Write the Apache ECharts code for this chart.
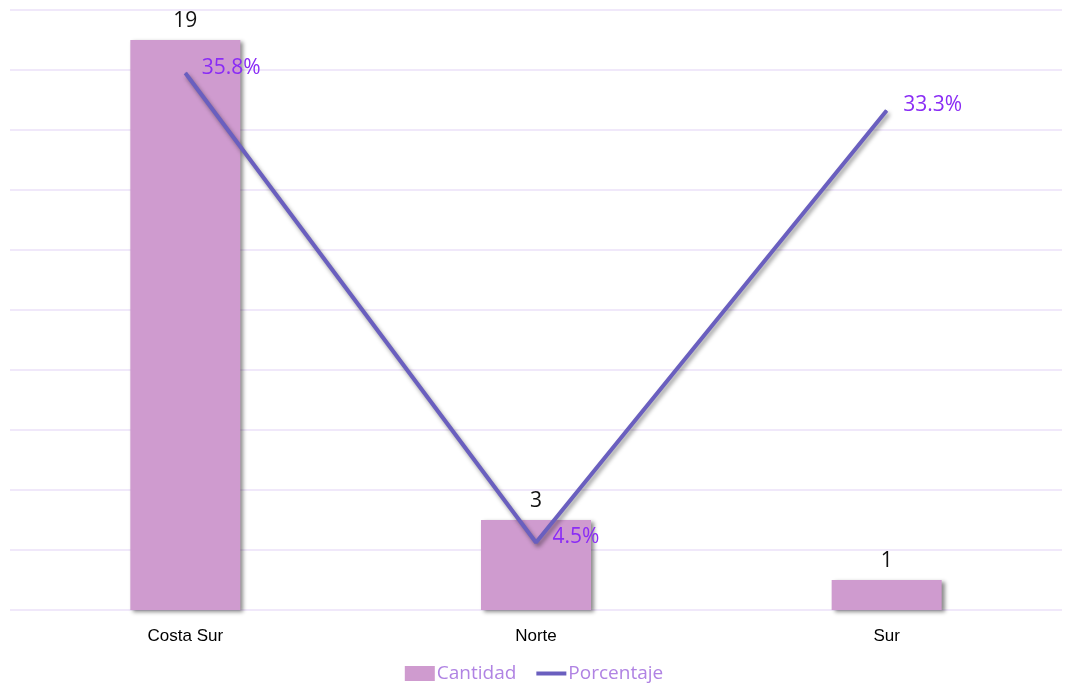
<!DOCTYPE html>
<html><head><meta charset="utf-8">
<script src="https://cdn.jsdelivr.net/npm/echarts@6/dist/echarts.min.js"></script>
<style>html,body{margin:0;padding:0;background:#fff}#c{width:1068px;height:685px}</style>
</head><body><div id="c"></div>
<script>
const categories = ['Costa Sur', 'Norte', 'Sur'];
const cantidad = [19, 3, 1];
const porcentaje = [0.358, 0.045, 0.333];
const seriesNames = ['Cantidad', 'Porcentaje'];

const labelFont = '"Open Sans", "DejaVu Sans", sans-serif';
const chart = echarts.init(document.getElementById('c'));
chart.setOption({
  animation: false,
  backgroundColor: '#fff',
  grid: { left: 10, right: 6, top: 10, bottom: 75, containLabel: false },
  legend: {
    top: 659, left: 'center', itemGap: 20, itemWidth: 30, itemHeight: 15, symbolKeepAspect: true,
    textStyle: { color: '#b083e3', fontSize: 19, fontFamily: labelFont, padding: [0,0,0,-3] },
    data: [
      { name: seriesNames[0], icon: 'rect' },
      { name: seriesNames[1], icon: 'path://M0,0h30v4h-30z' }
    ]
  },
  xAxis: {
    type: 'category', data: categories,
    axisLine: { show: false }, axisTick: { show: false },
    axisLabel: { color: '#000', fontSize: 17, margin: 18, fontFamily: '"Liberation Sans Narrow", "Arial Narrow", "Liberation Sans", sans-serif' }
  },
  yAxis: [
    { type: 'value', min: 0, max: 20, interval: 2, axisLabel: { show: false },
      axisLine: { show: false }, axisTick: { show: false },
      splitLine: { lineStyle: { color: '#ebe0f8', width: 1.5 } } },
    { type: 'value', min: 0, max: 0.4, interval: 0.04, axisLabel: { show: false },
      axisLine: { show: false }, axisTick: { show: false }, splitLine: { show: false } }
  ],
  series: [
    {
      name: seriesNames[0], type: 'bar', data: cantidad, barWidth: 110, yAxisIndex: 0,
      itemStyle: { color: '#cf9bcf', shadowColor: 'rgba(0,0,0,0.45)', shadowBlur: 4, shadowOffsetX: 3, shadowOffsetY: 2 },
      label: { show: true, position: 'top', distance: 8, color: '#111', fontSize: 21,
        fontFamily: labelFont }
    },
    {
      name: seriesNames[1], type: 'line', data: porcentaje, yAxisIndex: 1,
      symbol: 'circle', symbolSize: 1, showSymbol: true,
      lineStyle: { color: '#6a5fbf', width: 4, shadowColor: 'rgba(0,0,0,0.4)', shadowBlur: 4, shadowOffsetX: 2, shadowOffsetY: 3 },
      itemStyle: { color: '#6a5fbf' },
      label: { show: true, position: 'right', distance: 16, offset: [0, -5], color: '#8a2cf5', fontSize: 21,
        fontFamily: labelFont,
        formatter: p => (p.value * 100).toFixed(1) + '%' }
    }
  ]
});
</script></body></html>
